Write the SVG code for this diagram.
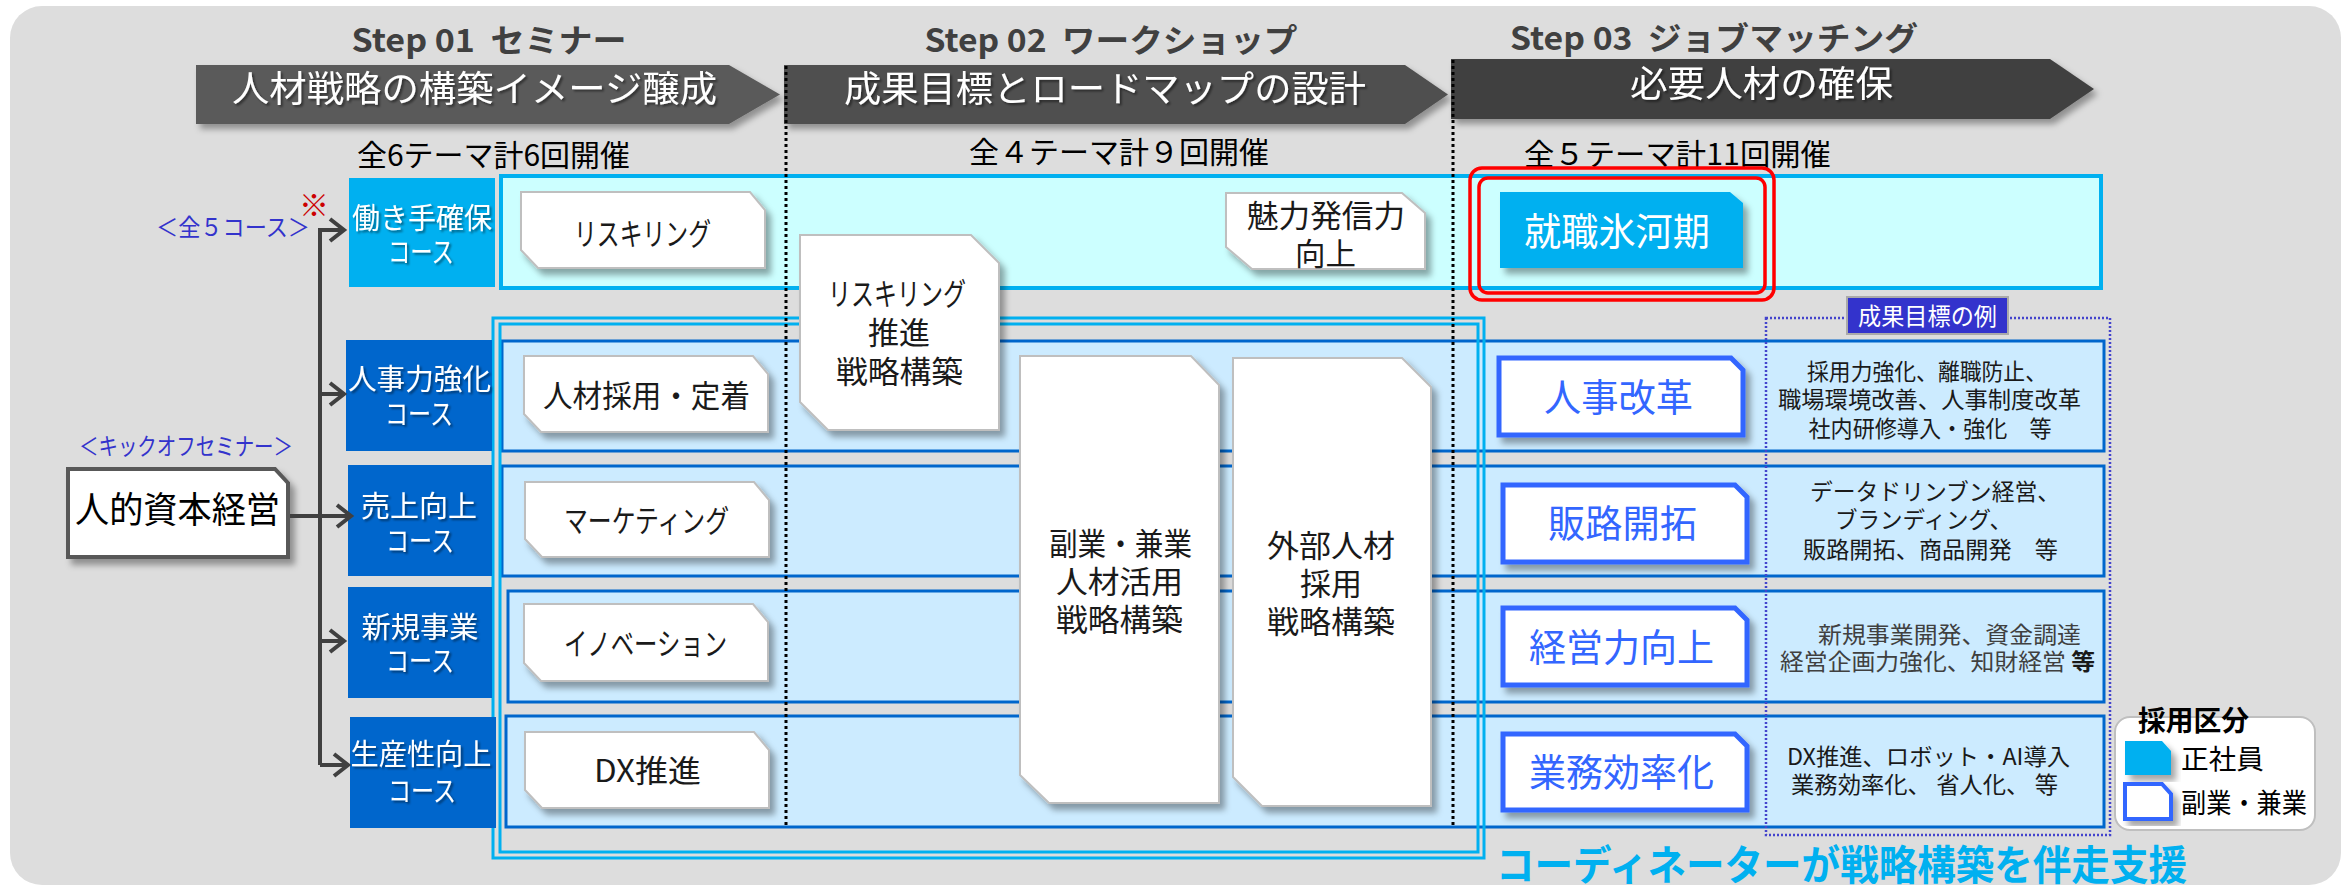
<svg xmlns="http://www.w3.org/2000/svg" width="2346" height="886" viewBox="0 0 2346 886">
<defs>
<style>
text { font-family: "Noto Sans CJK JP", "Noto Sans", sans-serif; }
.step { font-size:32px; font-weight:bold; fill:#404040; text-anchor:middle; }
.ban { font-size:36px; fill:#ffffff; text-anchor:middle; }
.cnt { font-size:30px; fill:#000000; text-anchor:middle; }
.crs { font-size:29px; fill:#ffffff; text-anchor:middle; }
.sem { font-size:31px; fill:#1a1a1a; text-anchor:middle; }
.wb { fill:#ffffff; stroke:#BFBFBF; stroke-width:2; }
.bb { fill:#ffffff; stroke:#3366FF; stroke-width:5; }
.bt { font-size:38px; fill:#3366FF; text-anchor:middle; }
.ex { font-size:23px; fill:#1a1a1a; text-anchor:middle; }
.band0 { fill:#CCFFFF; stroke:#00B0F0; stroke-width:4; }
.band { fill:#CCEBFF; stroke:#0066CC; stroke-width:3; }
.c0 { fill:#00B0F0; }
.c1 { fill:#0066CC; }
.dot { stroke:#000000; stroke-width:3; stroke-dasharray:3 3; fill:none; }
.arr { stroke:#404040; stroke-width:4; fill:none; }
.dbl { fill:none; stroke:#00B0F0; stroke-width:3; }
.red { fill:none; stroke:#FF0000; stroke-width:3.5; }
.note { font-size:24px; fill:#3333CC; text-anchor:middle; }
</style>
<filter id="sh" x="-10%" y="-10%" width="130%" height="130%">
<feDropShadow dx="5" dy="6" stdDeviation="3" flood-color="#000000" flood-opacity="0.35"/>
</filter>
<filter id="bsh" x="-5%" y="-10%" width="115%" height="140%">
<feDropShadow dx="4" dy="5" stdDeviation="3" flood-color="#000000" flood-opacity="0.35"/>
</filter>
<filter id="tsh" x="-5%" y="-10%" width="115%" height="140%">
<feDropShadow dx="2" dy="2" stdDeviation="1" flood-color="#000000" flood-opacity="0.45"/>
</filter>
<marker id="chev" markerUnits="userSpaceOnUse" viewBox="0 0 24 26" markerWidth="24" markerHeight="26" refX="20" refY="13" orient="auto">
<path d="M6,2 L20,13 L6,24" fill="none" stroke="#404040" stroke-width="4"/>
</marker>
</defs>

<rect x="10" y="6" width="2331" height="879" rx="32" fill="#DDDDDD"/>

<g id="steps">
<text class="step" x="489" y="52" textLength="275" lengthAdjust="spacingAndGlyphs">Step 01&#160; セミナー</text>
<text class="step" x="1111" y="52" textLength="373" lengthAdjust="spacingAndGlyphs">Step 02&#160; ワークショップ</text>
<text class="step" x="1714" y="50" textLength="408" lengthAdjust="spacingAndGlyphs">Step 03&#160; ジョブマッチング</text>
</g>

<g id="banner1">
<path d="M196,65 H729 L780,94.5 L729,124 H196 Z" fill="#5A5A5A" filter="url(#bsh)"/>
<text class="ban" x="474.5" y="102" textLength="485" lengthAdjust="spacingAndGlyphs" filter="url(#tsh)">人材戦略の構築イメージ醸成</text>
</g>
<g id="banner2">
<path d="M784,65 H1405 L1448,94.5 L1405,124 H784 Z" fill="#4F4F4F" filter="url(#bsh)"/>
<text class="ban" x="1105" y="102" textLength="522" lengthAdjust="spacingAndGlyphs" filter="url(#tsh)">成果目標とロードマップの設計</text>
</g>
<g id="banner3">
<path d="M1451,59 H2050 L2094,89 L2050,119 H1451 Z" fill="#404040" filter="url(#bsh)"/>
<text class="ban" x="1761.5" y="97" textLength="263" lengthAdjust="spacingAndGlyphs" filter="url(#tsh)">必要人材の確保</text>
</g>

<g id="counts">
<text class="cnt" x="493.5" y="166" textLength="273" lengthAdjust="spacingAndGlyphs">全6テーマ計6回開催</text>
<text class="cnt" x="1119" y="163" textLength="300" lengthAdjust="spacingAndGlyphs">全４テーマ計９回開催</text>
<text class="cnt" x="1677.5" y="165" textLength="307" lengthAdjust="spacingAndGlyphs">全５テーマ計11回開催</text>
</g>

<g id="bands">
<rect class="band0" x="501" y="176" width="1600" height="112"/>
<rect class="band" x="502" y="341" width="1602" height="110"/>
<rect class="band" x="502" y="466" width="1602" height="110"/>
<rect class="band" x="508" y="591" width="1596" height="111"/>
<rect class="band" x="506" y="716" width="1598" height="111"/>
</g>

<g id="coordinator-frame">
<rect class="dbl" x="493" y="318" width="991" height="540"/>
<rect class="dbl" x="500" y="324" width="978" height="528"/>
<text x="1841.5" y="880" font-size="41" font-weight="bold" fill="#00B0F0" text-anchor="middle" textLength="691" lengthAdjust="spacingAndGlyphs">コーディネーターが戦略構築を伴走支援</text>
</g>

<g id="dividers">
<line class="dot" x1="786" y1="66" x2="786" y2="826"/>
<line class="dot" x1="1453" y1="60" x2="1453" y2="828"/>
</g>

<g id="course0">
<rect class="c0" x="349" y="178" width="146" height="109"/>
<text class="crs" x="422" y="229" textLength="140" lengthAdjust="spacingAndGlyphs" filter="url(#tsh)">働き手確保</text>
<text class="crs" x="421" y="263" textLength="66" lengthAdjust="spacingAndGlyphs" filter="url(#tsh)">コース</text>
</g>
<g id="course1">
<rect class="c1" x="346" y="340" width="146" height="111"/>
<text class="crs" x="419.5" y="390" textLength="143" lengthAdjust="spacingAndGlyphs" filter="url(#tsh)">人事力強化</text>
<text class="crs" x="419" y="425" textLength="68" lengthAdjust="spacingAndGlyphs" filter="url(#tsh)">コース</text>
</g>
<g id="course2">
<rect class="c1" x="348" y="465" width="144" height="111"/>
<text class="crs" x="419" y="517" textLength="116" lengthAdjust="spacingAndGlyphs" filter="url(#tsh)">売上向上</text>
<text class="crs" x="420" y="552" textLength="68" lengthAdjust="spacingAndGlyphs" filter="url(#tsh)">コース</text>
</g>
<g id="course3">
<rect class="c1" x="348" y="587" width="144" height="111"/>
<text class="crs" x="420" y="638" textLength="117" lengthAdjust="spacingAndGlyphs" filter="url(#tsh)">新規事業</text>
<text class="crs" x="420" y="672" textLength="68" lengthAdjust="spacingAndGlyphs" filter="url(#tsh)">コース</text>
</g>
<g id="course4">
<rect class="c1" x="350" y="717" width="146" height="111"/>
<text class="crs" x="421" y="765" textLength="141" lengthAdjust="spacingAndGlyphs" filter="url(#tsh)">生産性向上</text>
<text class="crs" x="422" y="802" textLength="68" lengthAdjust="spacingAndGlyphs" filter="url(#tsh)">コース</text>
</g>

<g id="labels-left">
<text class="note" x="233" y="236" textLength="154" lengthAdjust="spacingAndGlyphs">＜全５コース＞</text>
<text x="314" y="216" font-size="30" font-weight="bold" fill="#CC0000" text-anchor="middle">※</text>
<text class="note" x="186" y="455" textLength="214" lengthAdjust="spacingAndGlyphs">＜キックオフセミナー＞</text>
</g>

<g id="kickoff">
<path d="M68,469 H275 L288,483 V557 H68 Z" fill="#ffffff" stroke="#595959" stroke-width="4" filter="url(#sh)"/>
<text x="177.5" y="523" font-size="36" fill="#000000" text-anchor="middle" textLength="205" lengthAdjust="spacingAndGlyphs">人的資本経営</text>
</g>

<g id="connectors">
<path class="arr" d="M320,765 V230 H344" marker-end="url(#chev)"/>
<path class="arr" d="M320,394 H344" marker-end="url(#chev)"/>
<path class="arr" d="M290,516 H351" marker-end="url(#chev)"/>
<path class="arr" d="M320,641 H344" marker-end="url(#chev)"/>
<path class="arr" d="M320,765 H348" marker-end="url(#chev)"/>
</g>

<g id="sem-reskilling">
<path class="wb" d="M521,192 H750 L765,210 V268 H538 L521,250 Z" filter="url(#sh)"/>
<text class="sem" x="642.5" y="245" textLength="137" lengthAdjust="spacingAndGlyphs">リスキリング</text>
</g>
<g id="sem-hr">
<path class="wb" d="M524,356 H753 L768,374 V432 H541 L524,414 Z" filter="url(#sh)"/>
<text class="sem" x="646.5" y="407" textLength="207" lengthAdjust="spacingAndGlyphs">人材採用・定着</text>
</g>
<g id="sem-marketing">
<path class="wb" d="M525,482 H754 L769,500 V557 H542 L525,539 Z" filter="url(#sh)"/>
<text class="sem" x="646.5" y="532" textLength="165" lengthAdjust="spacingAndGlyphs">マーケティング</text>
</g>
<g id="sem-innovation">
<path class="wb" d="M524,604 H753 L768,622 V681 H541 L524,663 Z" filter="url(#sh)"/>
<text class="sem" x="645.5" y="655" textLength="163" lengthAdjust="spacingAndGlyphs">イノベーション</text>
</g>
<g id="sem-dx">
<path class="wb" d="M525,732 H754 L769,750 V808 H542 L525,790 Z" filter="url(#sh)"/>
<text class="sem" x="647.5" y="782" textLength="107" lengthAdjust="spacingAndGlyphs">DX推進</text>
</g>

<g id="ws-reskilling">
<path class="wb" d="M800,235 H971 L999,263 V430 H828 L800,402 Z" filter="url(#sh)"/>
<text class="sem" x="897" y="305" textLength="138" lengthAdjust="spacingAndGlyphs">リスキリング</text>
<text class="sem" x="899" y="344" textLength="62" lengthAdjust="spacingAndGlyphs">推進</text>
<text class="sem" x="899.5" y="383" textLength="127" lengthAdjust="spacingAndGlyphs">戦略構築</text>
</g>
<g id="ws-attract">
<path class="wb" d="M1226,193 H1402 L1425,213 V269 H1252 L1226,247 Z" filter="url(#sh)"/>
<text class="sem" x="1326" y="227" textLength="158" lengthAdjust="spacingAndGlyphs">魅力発信力</text>
<text class="sem" x="1325.5" y="265" textLength="61" lengthAdjust="spacingAndGlyphs">向上</text>
</g>
<g id="ws-sidejob">
<path class="wb" d="M1020,356 H1191 L1219,385 V803 H1049 L1020,775 Z" filter="url(#sh)"/>
<text class="sem" x="1120.5" y="555" textLength="143" lengthAdjust="spacingAndGlyphs">副業・兼業</text>
<text class="sem" x="1119.5" y="593" textLength="127" lengthAdjust="spacingAndGlyphs">人材活用</text>
<text class="sem" x="1119.5" y="631" textLength="127" lengthAdjust="spacingAndGlyphs">戦略構築</text>
</g>
<g id="ws-external">
<path class="wb" d="M1233,358 H1402 L1431,387 V806 H1262 L1233,777 Z" filter="url(#sh)"/>
<text class="sem" x="1331" y="557" textLength="128" lengthAdjust="spacingAndGlyphs">外部人材</text>
<text class="sem" x="1331" y="595" textLength="62" lengthAdjust="spacingAndGlyphs">採用</text>
<text class="sem" x="1331" y="633" textLength="128" lengthAdjust="spacingAndGlyphs">戦略構築</text>
</g>

<g id="jm-hyogaki">
<rect class="red" x="1470" y="168" width="304" height="132" rx="12"/>
<rect class="red" x="1479" y="178" width="286" height="115" rx="9"/>
<path d="M1500,192 H1730 L1743,203 V268 H1500 Z" fill="#00B0F0" filter="url(#sh)"/>
<text x="1617" y="245" font-size="38" fill="#ffffff" text-anchor="middle" textLength="186" lengthAdjust="spacingAndGlyphs">就職氷河期</text>
</g>

<g id="goal-frame">
<rect x="1766" y="318" width="344" height="517" fill="none" stroke="#4444CC" stroke-width="2.5" stroke-dasharray="2 2"/>
<rect x="1847" y="297" width="161" height="37" fill="#3333CC" stroke="#AAAAAA" stroke-width="2"/>
<text x="1927.5" y="325" font-size="24" fill="#ffffff" text-anchor="middle" textLength="139" lengthAdjust="spacingAndGlyphs">成果目標の例</text>
</g>

<g id="jm-hr">
<path class="bb" d="M1499,358 H1731 L1743,370 V435 H1499 Z" filter="url(#sh)"/>
<text class="bt" x="1618.5" y="411" textLength="149" lengthAdjust="spacingAndGlyphs">人事改革</text>
</g>
<g id="jm-sales">
<path class="bb" d="M1503,485 H1735 L1747,497 V562 H1503 Z" filter="url(#sh)"/>
<text class="bt" x="1622.5" y="537" textLength="149" lengthAdjust="spacingAndGlyphs">販路開拓</text>
</g>
<g id="jm-mgmt">
<path class="bb" d="M1503,608 H1735 L1747,620 V685 H1503 Z" filter="url(#sh)"/>
<text class="bt" x="1621.5" y="661" textLength="185" lengthAdjust="spacingAndGlyphs">経営力向上</text>
</g>
<g id="jm-eff">
<path class="bb" d="M1503,734 H1735 L1747,746 V810 H1503 Z" filter="url(#sh)"/>
<text class="bt" x="1621.5" y="786" textLength="185" lengthAdjust="spacingAndGlyphs">業務効率化</text>
</g>

<g id="examples">
<text class="ex" x="1927" y="380" textLength="240" lengthAdjust="spacingAndGlyphs">採用力強化、離職防止、</text>
<text class="ex" x="1929.5" y="408" textLength="303" lengthAdjust="spacingAndGlyphs">職場環境改善、人事制度改革</text>
<text class="ex" x="1930" y="437" textLength="243" lengthAdjust="spacingAndGlyphs">社内研修導入・強化　等</text>
<text class="ex" x="1935" y="500" textLength="250" lengthAdjust="spacingAndGlyphs">データドリンブン経営、</text>
<text class="ex" x="1923.5" y="528" textLength="177" lengthAdjust="spacingAndGlyphs">ブランディング、</text>
<text class="ex" x="1930.5" y="558" textLength="255" lengthAdjust="spacingAndGlyphs">販路開拓、商品開発　等</text>
<text class="ex" x="1949.5" y="643" textLength="263" lengthAdjust="spacingAndGlyphs" style="fill:#404040">新規事業開発、資金調達</text>
<text class="ex" x="1937.5" y="670" textLength="315" lengthAdjust="spacingAndGlyphs" style="fill:#404040">経営企画力強化、知財経営 <tspan font-weight="bold" style="fill:#1a1a1a">等</tspan></text>
<text class="ex" x="1928.5" y="765" textLength="283" lengthAdjust="spacingAndGlyphs">DX推進、ロボット・AI導入</text>
<text class="ex" x="1924.5" y="793" textLength="267" lengthAdjust="spacingAndGlyphs">業務効率化、 省人化、 等</text>
</g>

<g id="legend">
<rect x="2115" y="717" width="200" height="113" rx="15" fill="#ffffff" stroke="#BFBFBF" stroke-width="2"/>
<text x="2138" y="731" font-size="28" font-weight="bold" fill="#000000" textLength="111" lengthAdjust="spacingAndGlyphs">採用区分</text>
<path d="M2125,741 H2162 L2171,751 V775 H2125 Z" fill="#00B0F0" filter="url(#sh)"/>
<text x="2181" y="769" font-size="27" fill="#000000" textLength="83" lengthAdjust="spacingAndGlyphs">正社員</text>
<path d="M2125,784 H2162 L2171,794 V819 H2125 Z" fill="#ffffff" stroke="#3366FF" stroke-width="4" filter="url(#sh)"/>
<text x="2181" y="813" font-size="27" fill="#000000" textLength="126" lengthAdjust="spacingAndGlyphs">副業・兼業</text>
</g>
</svg>
